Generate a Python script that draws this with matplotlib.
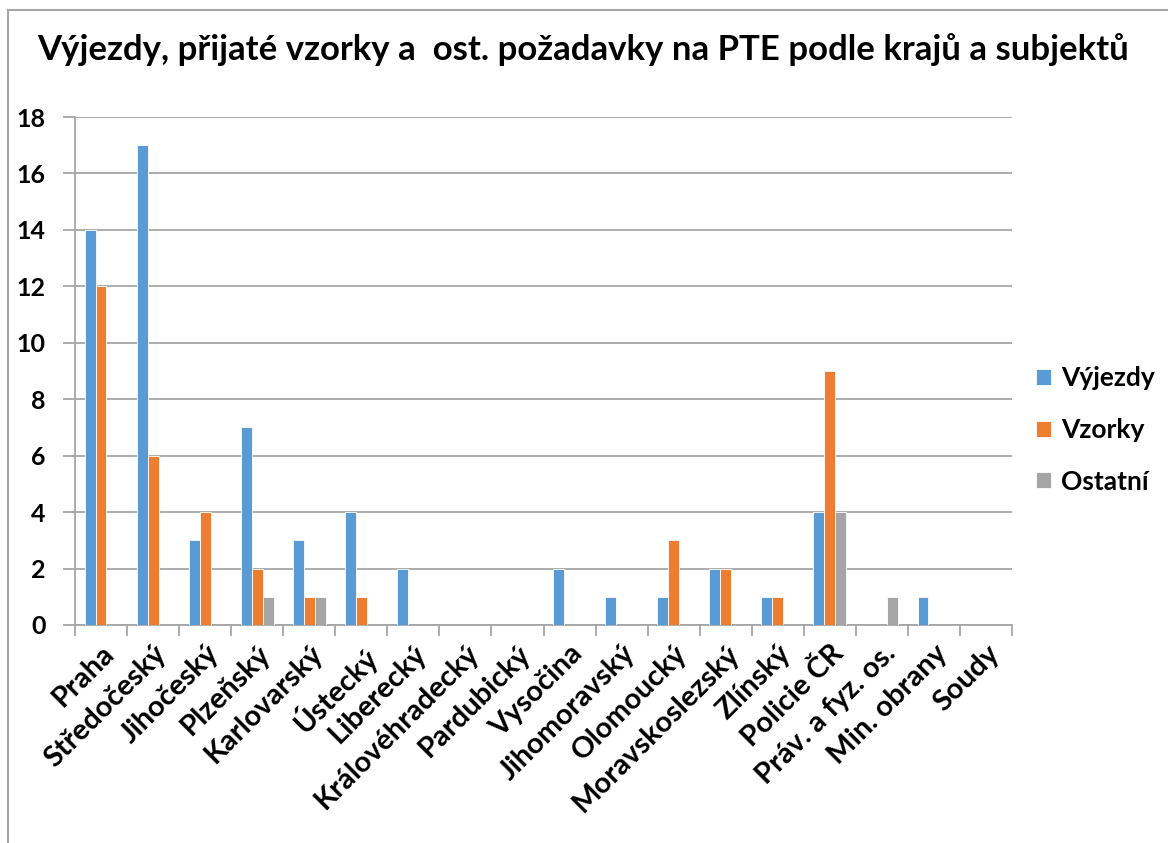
import matplotlib
matplotlib.use("Agg")
import matplotlib.pyplot as plt
import numpy as np
from matplotlib.lines import Line2D

categories = ["Praha", "Středočeský", "Jihočeský", "Plzeňský", "Karlovarský", "Ústecký",
              "Liberecký", "Královéhradecký", "Pardubický", "Vysočina", "Jihomoravský",
              "Olomoucký", "Moravskoslezský", "Zlínský", "Policie ČR", "Práv. a fyz. os.",
              "Min. obrany", "Soudy"]
vyjezdy = [14, 17, 3, 7, 3, 4, 2, 0, 0, 2, 1, 1, 2, 1, 4, 0, 1, 0]
vzorky = [12, 6, 4, 2, 1, 1, 0, 0, 0, 0, 0, 3, 2, 1, 9, 0, 0, 0]
ostatni = [0, 0, 0, 1, 1, 0, 0, 0, 0, 0, 0, 0, 0, 0, 4, 1, 0, 0]
series_names = ["Výjezdy", "Vzorky", "Ostatní"]
colors = ["#5B9BD5", "#ED7D31", "#A5A5A5"]
yticks = [0, 2, 4, 6, 8, 10, 12, 14, 16, 18]

plt.rcParams['font.family'] = ['Lato', 'DejaVu Sans']
plt.rcParams['font.weight'] = 'bold'

W, H = 1168, 843
fig = plt.figure(figsize=(W / 100, H / 100), dpi=100)
ax = fig.add_axes([75 / W, 1 - 625 / H, (1012 - 75) / W, (625 - 117) / H])

x = np.arange(len(categories))
bw = 0.21
for i, (vals, name, c) in enumerate(zip([vyjezdy, vzorky, ostatni], series_names, colors)):
    ax.bar(x + (i - 1) * bw, vals, width=bw, color=c, edgecolor='white', linewidth=0.6,
           label=name, zorder=3)

ax.set_xlim(-0.5, len(categories) - 0.5)
ax.set_ylim(0, 18)
ax.set_yticks(yticks)
ax.set_yticklabels([str(t) for t in yticks], fontsize=18, fontweight='bold')
ax.yaxis.grid(True, color='#A6A6A6', linewidth=1.3, zorder=0)
ax.tick_params(axis='y', length=9, color='#A6A6A6', width=1.3, pad=12)

ax.set_xticks(np.arange(len(categories) + 1) - 0.5, minor=False)
ax.set_xticklabels([])
ax.tick_params(axis='x', length=8, color='#A6A6A6', width=1.3)
ax.set_xticks(x, minor=True)
ax.set_xticklabels(categories, minor=True, rotation=45, ha='right', va='top',
                   rotation_mode='anchor', fontsize=21, fontweight='bold')
ax.tick_params(axis='x', which='minor', length=0, pad=11)

for s in ['top', 'right']:
    ax.spines[s].set_visible(False)
ax.spines['left'].set_color('#A6A6A6')
ax.spines['left'].set_linewidth(1.3)
ax.spines['bottom'].set_color('#A6A6A6')
ax.spines['bottom'].set_linewidth(1.3)

leg = ax.legend(loc='center left', bbox_to_anchor=(1036 / W, 1 - 430 / H),
                bbox_transform=fig.transFigure, frameon=False,
                borderpad=0, borderaxespad=0,
                handlelength=0.55, handleheight=0.55, handletextpad=0.4,
                labelspacing=1.05, prop={'weight': 'bold', 'size': 19})

title = fig.text(583 / W, 1 - 50 / H,
                 "Výjezdy, přijaté vzorky a  ost. požadavky na PTE podle krajů a subjektů",
                 ha='center', va='center', fontsize=22, fontweight='bold')
fig.canvas.draw()
r = fig.canvas.get_renderer()
bb = title.get_window_extent(r)
title.set_fontsize(22 * 1090 / bb.width)

# chart border (partial frame)
fig.add_artist(Line2D([8 / W, 8 / W], [0, 1 - 10 / H], transform=fig.transFigure,
                      color='#A6A6A6', linewidth=1.5))
fig.add_artist(Line2D([8 / W, 1], [1 - 10 / H, 1 - 10 / H], transform=fig.transFigure,
                      color='#A6A6A6', linewidth=1.5))

fig.savefig("out.png", dpi=100)
